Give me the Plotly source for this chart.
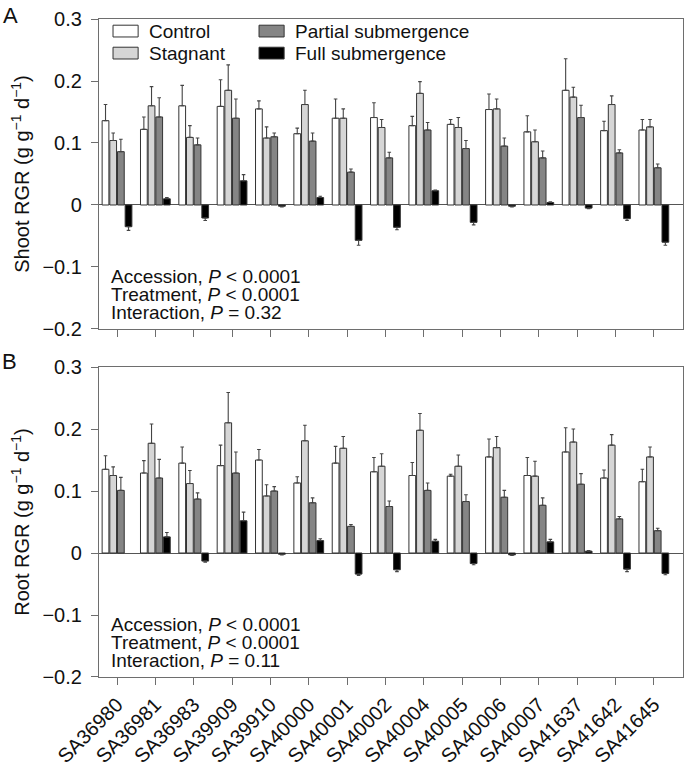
import plotly.graph_objects as go

accessions = ["SA36980", "SA36981", "SA36983", "SA39909", "SA39910", "SA40000", "SA40001",
              "SA40002", "SA40004", "SA40005", "SA40006", "SA40007", "SA41637", "SA41642", "SA41645"]
treatments = ["Control", "Stagnant", "Partial submergence", "Full submergence"]

# Shoot RGR (panel A)
shoot_control = [0.136, 0.122, 0.160, 0.159, 0.155, 0.115, 0.140, 0.141, 0.128, 0.130, 0.154, 0.118, 0.185, 0.120, 0.121]
shoot_control_err = [0.026, 0.020, 0.033, 0.043, 0.013, 0.009, 0.031, 0.024, 0.015, 0.008, 0.025, 0.026, 0.051, 0.015, 0.017]
shoot_stagnant = [0.104, 0.160, 0.109, 0.185, 0.108, 0.162, 0.140, 0.125, 0.180, 0.125, 0.155, 0.102, 0.174, 0.162, 0.126]
shoot_stagnant_err = [0.012, 0.031, 0.019, 0.041, 0.018, 0.023, 0.015, 0.013, 0.019, 0.016, 0.016, 0.019, 0.016, 0.014, 0.012]
shoot_partial = [0.086, 0.142, 0.097, 0.140, 0.110, 0.103, 0.053, 0.076, 0.121, 0.091, 0.095, 0.076, 0.141, 0.084, 0.060]
shoot_partial_err = [0.020, 0.031, 0.011, 0.031, 0.006, 0.013, 0.005, 0.009, 0.012, 0.013, 0.013, 0.011, 0.020, 0.005, 0.006]
shoot_full = [-0.035, 0.010, -0.021, 0.039, -0.002, 0.012, -0.057, -0.036, 0.023, -0.028, -0.002, 0.004, -0.005, -0.022, -0.060]
shoot_full_err = [0.006, 0.002, 0.004, 0.010, 0.001, 0.002, 0.008, 0.004, 0.001, 0.004, 0.001, 0.001, 0.001, 0.003, 0.005]

# Root RGR (panel B); None = no visible bar
root_control = [0.135, 0.129, 0.145, 0.141, 0.150, 0.113, 0.145, 0.131, 0.125, 0.124, 0.155, 0.125, 0.163, 0.121, 0.115]
root_control_err = [0.022, 0.020, 0.026, 0.033, 0.017, 0.010, 0.027, 0.023, 0.021, 0.003, 0.029, 0.029, 0.039, 0.013, 0.020]
root_stagnant = [0.125, 0.177, 0.112, 0.210, 0.092, 0.181, 0.169, 0.140, 0.198, 0.140, 0.170, 0.124, 0.179, 0.174, 0.155]
root_stagnant_err = [0.014, 0.031, 0.021, 0.049, 0.018, 0.025, 0.019, 0.020, 0.027, 0.018, 0.018, 0.024, 0.021, 0.017, 0.016]
root_partial = [0.101, 0.121, 0.087, 0.129, 0.100, 0.081, 0.043, 0.075, 0.101, 0.083, 0.090, 0.077, 0.111, 0.055, 0.036]
root_partial_err = [0.021, 0.030, 0.010, 0.034, 0.007, 0.008, 0.003, 0.009, 0.012, 0.011, 0.011, 0.012, 0.017, 0.004, 0.004]
root_full = [None, 0.026, -0.013, 0.052, -0.002, 0.020, -0.034, -0.027, 0.019, -0.017, -0.003, 0.018, 0.003, -0.026, -0.033]
root_full_err = [0.000, 0.007, 0.002, 0.014, 0.001, 0.003, 0.002, 0.003, 0.003, 0.002, 0.001, 0.004, 0.001, 0.004, 0.002]

y_tickvals = [-0.2, -0.1, 0, 0.1, 0.2, 0.3]
y_ticktext = ["\u22120.2", "\u22120.1", "0", "0.1", "0.2", "0.3"]

stats_A = ["Accession, <i>P</i> < 0.0001", "Treatment, <i>P</i> < 0.0001", "Interaction, <i>P</i> = 0.32"]
stats_B = ["Accession, <i>P</i> < 0.0001", "Treatment, <i>P</i> < 0.0001", "Interaction, <i>P</i> = 0.11"]

fill_colors = ["#ffffff", "#d6d6d6", "#858585", "#000000"]
FONT = "Liberation Sans, Arial, Helvetica, sans-serif"

fig = go.Figure()


def add_bars(values_list, errs_list, xa, ya):
    for name, vals, errs, col in zip(treatments, values_list, errs_list, fill_colors):
        plus = [e if (v is not None and v >= 0) else 0 for v, e in zip(vals, errs)]
        minus = [e if (v is not None and v < 0) else 0 for v, e in zip(vals, errs)]
        fig.add_trace(go.Bar(
            x=accessions, y=vals, name=name, xaxis=xa, yaxis=ya, showlegend=False,
            marker=dict(color=col, line=dict(color="#333333", width=1)),
            error_y=dict(type="data", symmetric=False, array=plus, arrayminus=minus,
                         color="#444444", thickness=1.1, width=1.8),
        ))


add_bars([shoot_control, shoot_stagnant, shoot_partial, shoot_full],
         [shoot_control_err, shoot_stagnant_err, shoot_partial_err, shoot_full_err], "x", "y")
add_bars([root_control, root_stagnant, root_partial, root_full],
         [root_control_err, root_stagnant_err, root_partial_err, root_full_err], "x2", "y2")

axis_common = dict(showline=True, mirror=True, linecolor="#6e6e6e", linewidth=1.2,
                   ticks="outside", ticklen=7, tickcolor="#6e6e6e", tickwidth=1.2,
                   showgrid=False, automargin=False)
xrange = [-0.47, 14.76]

fig.update_layout(
    width=686, height=773,
    margin=dict(l=99, r=3, t=19, b=96),
    paper_bgcolor="white", plot_bgcolor="white",
    font=dict(family=FONT, size=19, color="#111111"),
    barmode="group", bargap=0.2, bargroupgap=0.12,
    xaxis=dict(domain=[0, 1], anchor="y", range=xrange, showticklabels=False, **axis_common),
    yaxis=dict(domain=[0.5289, 1], anchor="x", range=[-0.2, 0.3],
               tickvals=y_tickvals, ticktext=y_ticktext, tickfont=dict(size=20),
               ticklabelstandoff=5,
               zeroline=True, zerolinecolor="#555555", zerolinewidth=1.2,
               title=dict(text="Shoot RGR (g g<sup>\u22121</sup> d<sup>\u22121</sup>)",
                          font=dict(size=20), standoff=7),
               **axis_common),
    xaxis2=dict(domain=[0, 1], anchor="y2", range=xrange, tickangle=-45,
                tickfont=dict(size=20), **axis_common),
    yaxis2=dict(domain=[0, 0.4711], anchor="x2", range=[-0.2, 0.3],
                tickvals=y_tickvals, ticktext=y_ticktext, tickfont=dict(size=20),
                ticklabelstandoff=5,
                zeroline=True, zerolinecolor="#555555", zerolinewidth=1.2,
                title=dict(text="Root RGR (g g<sup>\u22121</sup> d<sup>\u22121</sup>)",
                           font=dict(size=20), standoff=7),
                **axis_common),
)

# Manual legend (two columns) in panel A
legend_pos = [(0.024, 0.961), (0.024, 0.890), (0.274, 0.961), (0.274, 0.890)]
sw_w, sw_h = 0.043, 0.038
for (lx, ly), name, col in zip(legend_pos, treatments, fill_colors):
    fig.add_shape(type="rect", xref="x domain", yref="y domain",
                  x0=lx, x1=lx + sw_w, y0=ly - sw_h / 2, y1=ly + sw_h / 2,
                  fillcolor=col, line=dict(color="#333333", width=1))
    fig.add_annotation(xref="x domain", yref="y domain", x=lx + sw_w + 0.015, y=ly,
                       text=name, showarrow=False, xanchor="left", yanchor="middle",
                       font=dict(size=19))

# Statistics text
stat_y = [0.168, 0.112, 0.054]
for ya, lines in (("y", stats_A), ("y2", stats_B)):
    for t, yy in zip(lines, stat_y):
        fig.add_annotation(xref="x domain" if ya == "y" else "x2 domain",
                           yref=f"{ya} domain", x=0.017, y=yy, text=t, showarrow=False,
                           xanchor="left", yanchor="middle", font=dict(size=19))

# Panel letters
fig.add_annotation(xref="paper", yref="paper", x=-0.152, y=1.0046, text="A", showarrow=False,
                   xanchor="center", yanchor="middle", font=dict(size=22))
fig.add_annotation(xref="paper", yref="paper", x=-0.154, y=0.480, text="B", showarrow=False,
                   xanchor="center", yanchor="middle", font=dict(size=22))

fig.write_html("out.html", config={"displayModeBar": False},
               post_script="document.body.style.margin='0px';document.body.style.overflow='hidden';")
